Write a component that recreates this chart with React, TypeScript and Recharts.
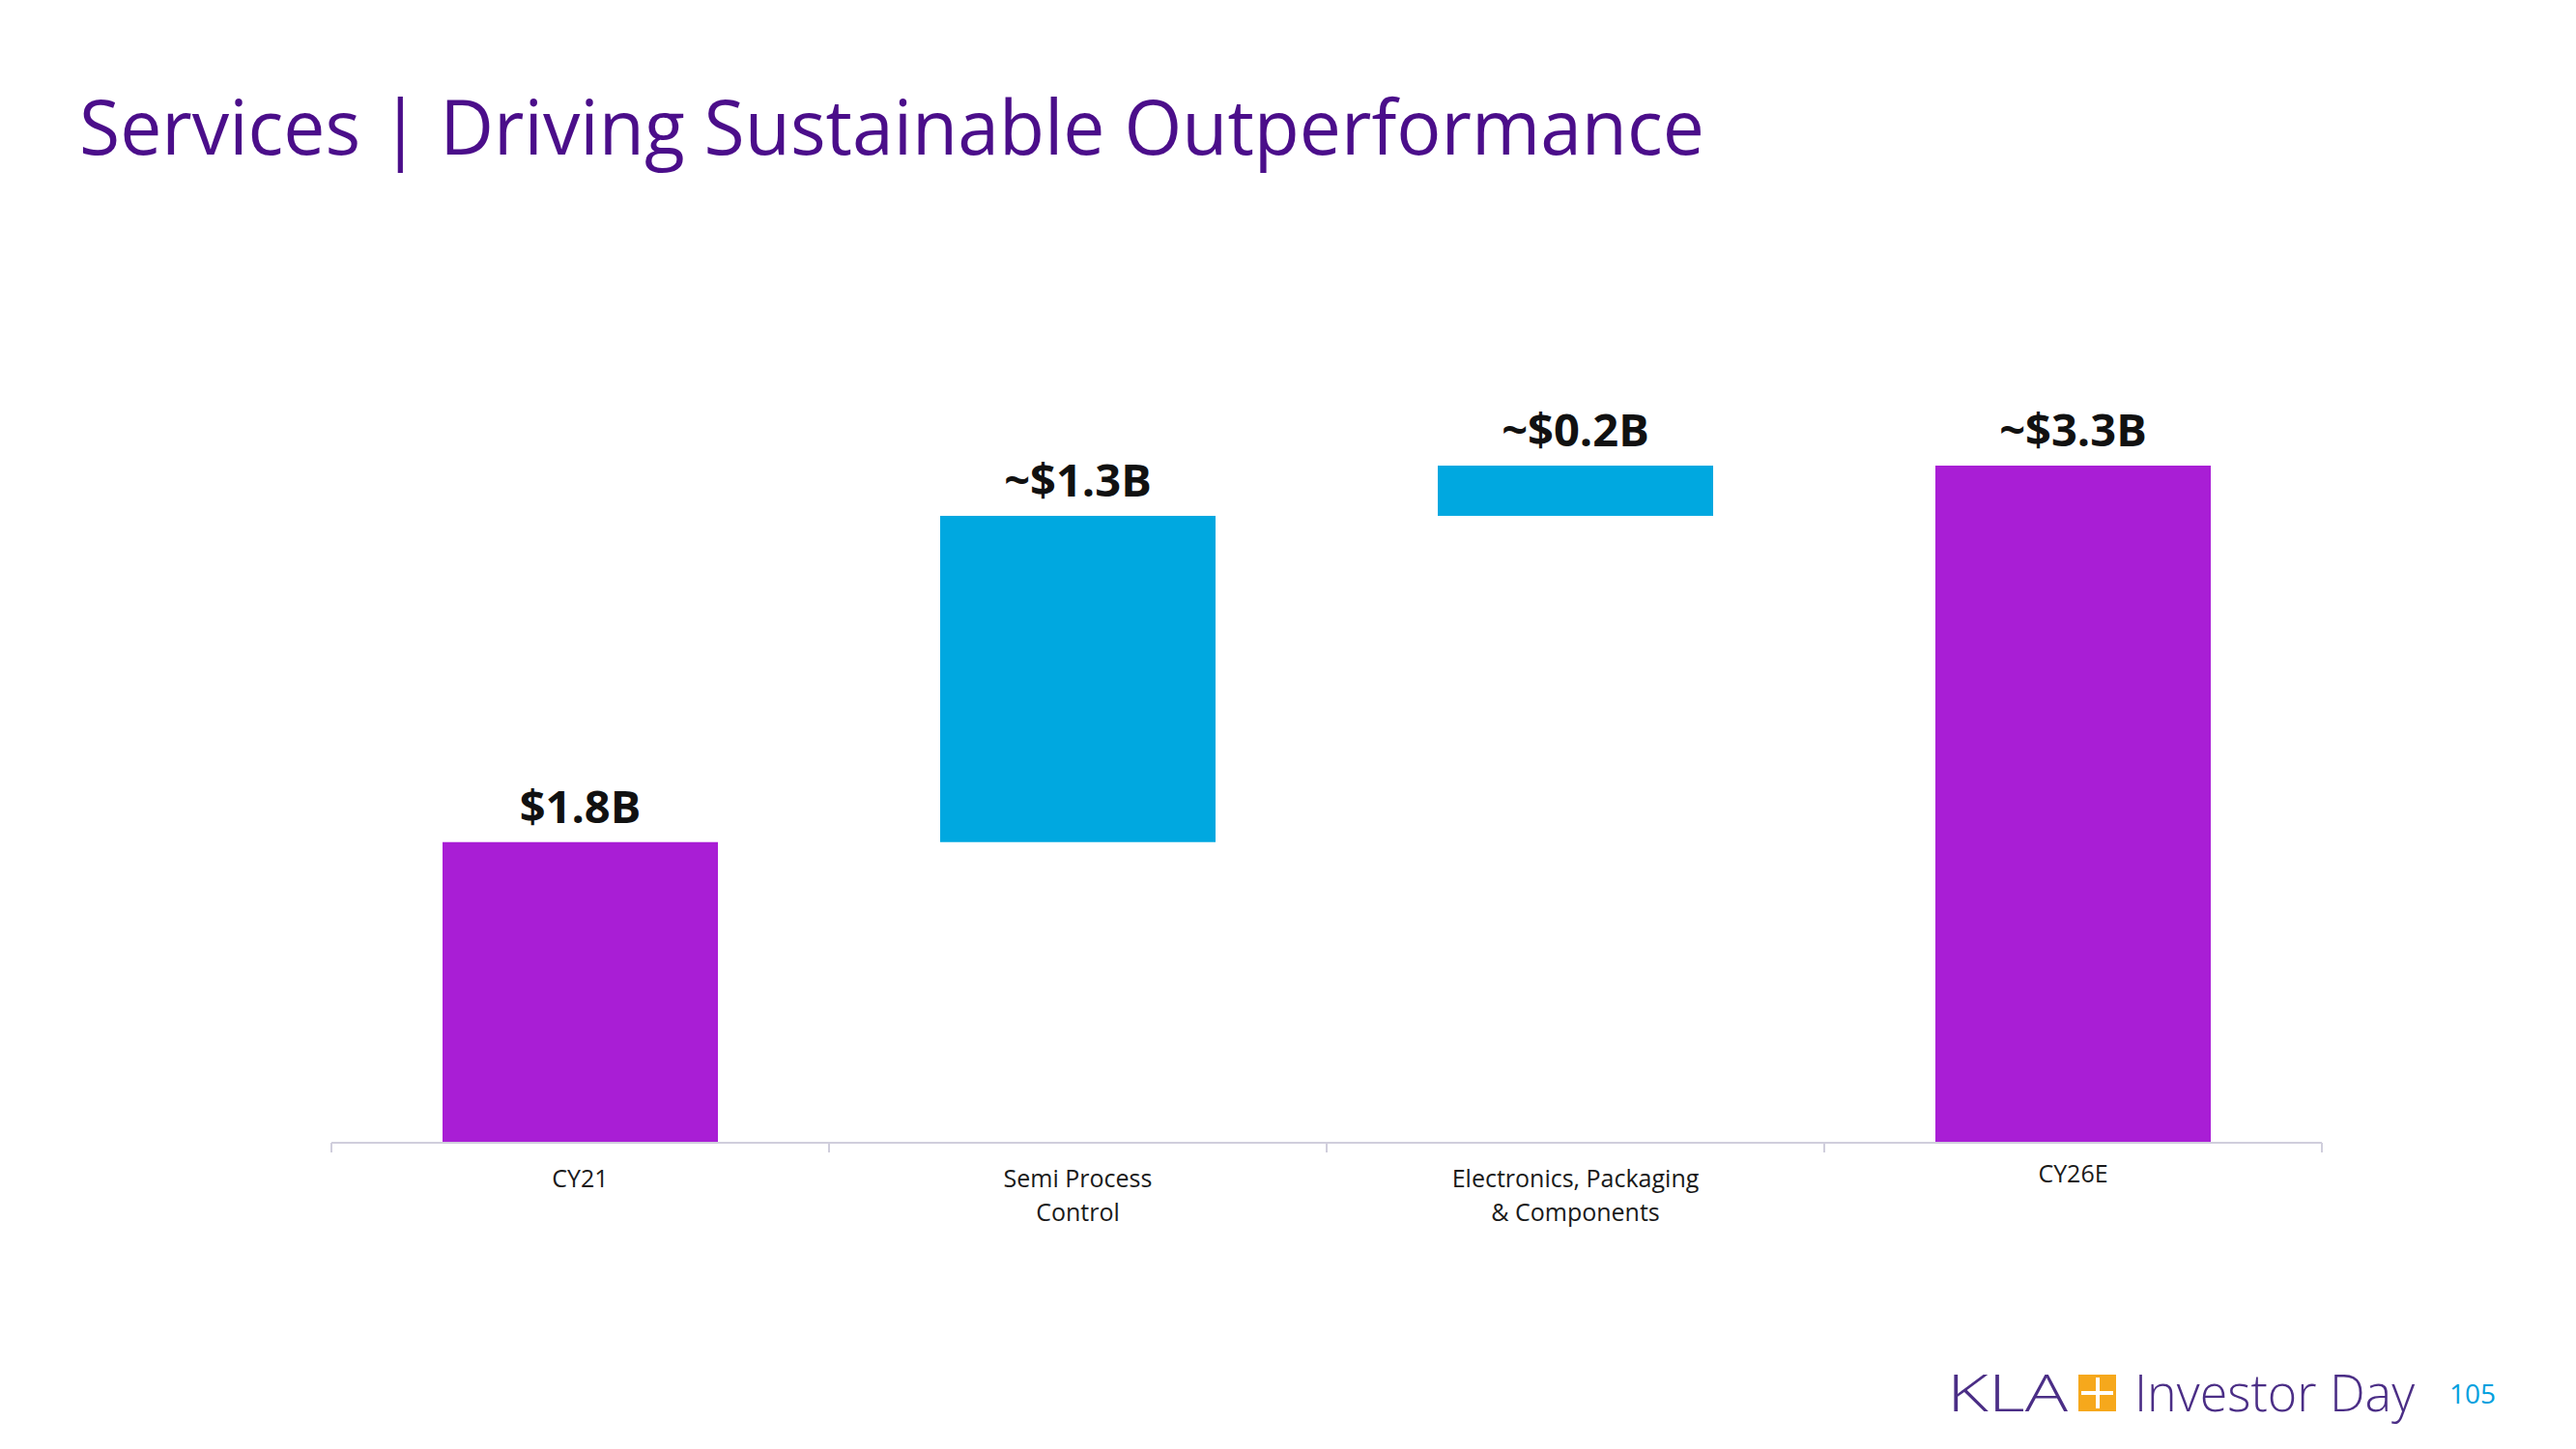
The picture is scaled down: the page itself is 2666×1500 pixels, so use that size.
import React from 'react';
import { BarChart, Bar, XAxis, YAxis, Cell, LabelList } from 'recharts';

// Categories (x axis), drawn bar sizes (the slide is not drawn to scale), value labels
const categories = ['CY21', 'Semi Process\nControl', 'Electronics, Packaging\n& Components', 'CY26E'];
const barSizes = [1.465, 1.59, 0.245, 3.3];
const isTotal = [true, false, false, true];
const valueLabels = ['$1.8B', '~$1.3B', '~$0.2B', '~$3.3B'];
const boundaryTicks = [0, 1, 2, 3, 4];

const PURPLE = '#A91ED5';
const BLUE = '#00A8E0';
const TITLE = '#4B0E8A';

let running = 0;
const data = categories.map((name, i) => {
  const base = isTotal[i] ? 0 : running;
  running = isTotal[i] ? barSizes[i] : running + barSizes[i];
  return { name, order: i, base, value: barSizes[i], label: valueLabels[i], total: isTotal[i] };
});

const CategoryTick = (props: any) => {
  const { x, y, payload, index } = props;
  const lines = String(payload.value).split('\n');
  const first = index === categories.length - 1 ? 40 : 45;
  return (
    <text x={x} y={y} textAnchor="middle" fontFamily="'Open Sans', sans-serif" fontSize={25} fill="#1A1A1A">
      {lines.map((l, i) => (
        <tspan key={i} x={x} y={y + first + i * 35}>{l}</tspan>
      ))}
    </text>
  );
};

const EmptyTick = () => <g />;

export default function App() {
  return (
    <div style={{ position: 'absolute', left: 0, top: 0, width: 2666, height: 1500, background: '#fff' }}>
      <BarChart
        width={2666}
        height={1500}
        data={data}
        margin={{ top: 482, right: 263, bottom: 256, left: 343 }}
        barSize={285}
      >
        <XAxis
          xAxisId="a"
          dataKey="order"
          type="number"
          scale="linear"
          domain={[0, boundaryTicks.length - 1]}
          ticks={boundaryTicks}
          interval={0}
          allowDataOverflow
          height={1}
          tick={EmptyTick}
          tickSize={10}
          axisLine={{ stroke: '#D0CEDC', strokeWidth: 2 }}
          tickLine={{ stroke: '#D0CEDC', strokeWidth: 2 }}
        />
        <XAxis
          xAxisId="b"
          dataKey="name"
          type="category"
          height={60}
          axisLine={false}
          tickLine={false}
          tickSize={0}
          tickMargin={0}
          interval={0}
          tick={CategoryTick}
        />
        <YAxis hide domain={[0, 3.3]} allowDataOverflow type="number" />
        <Bar xAxisId="b" dataKey="base" stackId="w" fill="transparent" isAnimationActive={false} />
        <Bar xAxisId="b" dataKey="value" stackId="w" isAnimationActive={false}>
          {data.map((d, i) => (
            <Cell key={i} fill={d.total ? PURPLE : BLUE} />
          ))}
          <LabelList
            dataKey="label"
            position="top"
            offset={20}
            fill="#111111"
            fontSize={47}
            fontWeight={700}
            fontFamily="'Open Sans', sans-serif"
          />
        </Bar>
      </BarChart>
      <svg width={2666} height={1500} style={{ position: 'absolute', left: 0, top: 0, pointerEvents: 'none' }}>
        <text
          x={82}
          y={160}
          fontFamily="'Open Sans', sans-serif"
          fontSize={78}
          fill={TITLE}
          textLength={1682}
          lengthAdjust="spacingAndGlyphs"
        >
          Services | Driving Sustainable Outperformance
        </text>
        <text
          x={2015}
          y={1461}
          fontFamily="'Open Sans', sans-serif"
          fontWeight={300}
          fontSize={53}
          fill="#4B2E86"
          textLength={125}
          lengthAdjust="spacingAndGlyphs"
        >
          KLA
        </text>
        <rect x={2151} y={1423} width={39} height={38} fill="#F6A81C" />
        <rect x={2169} y={1426} width={4} height={32} fill="#FFFFFF" />
        <rect x={2154} y={1440} width={33} height={4} fill="#FFFFFF" />
        <text
          x={2209}
          y={1461}
          fontFamily="'Open Sans', sans-serif"
          fontWeight={300}
          fontSize={53}
          fill="#4B2E86"
          textLength={290}
          lengthAdjust="spacingAndGlyphs"
        >
          Investor Day
        </text>
        <text x={2535} y={1453} fontFamily="'Open Sans', sans-serif" fontSize={28} fill="#00A0DE">
          105
        </text>
      </svg>
    </div>
  );
}
